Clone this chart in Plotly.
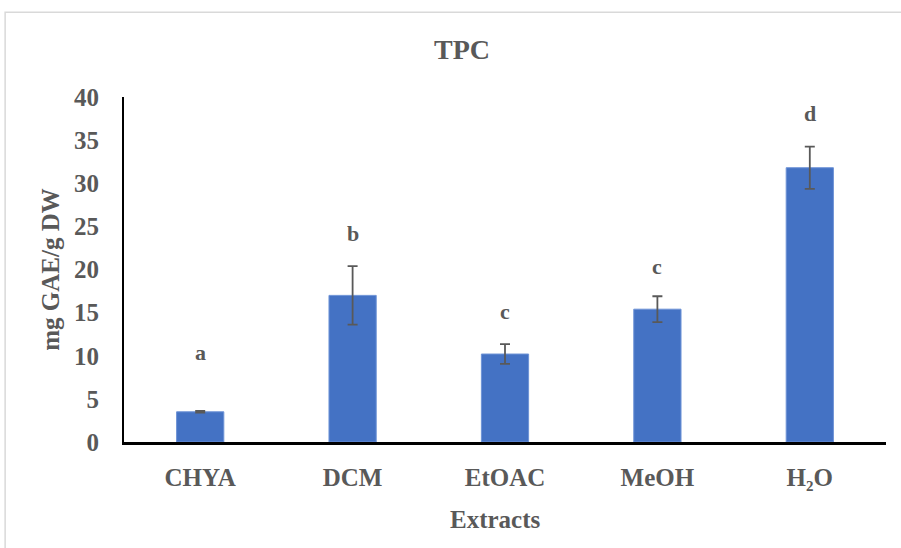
import plotly.graph_objects as go

categories = ["CHYA", "DCM", "EtOAC", "MeOH", "H₂O"]
values = [3.5, 17.0, 10.2, 15.4, 31.8]
errors = [0.1, 3.4, 1.15, 1.5, 2.45]
letters = ["a", "b", "c", "c", "d"]
letter_y = [10.4, 24.2, 15.1, 20.3, 38.1]

FONT = "Liberation Serif, Times New Roman, serif"
GRAY = "#595959"

fig = go.Figure()
fig.add_trace(go.Bar(
    x=categories, y=values,
    marker=dict(color="#4472C4", line=dict(color="#6E93D6", width=1)),
    error_y=dict(type="data", array=errors, visible=True, color=GRAY, thickness=1.8, width=5),
    width=0.31,
))

for c, l, ly in zip(categories, letters, letter_y):
    fig.add_annotation(x=c, y=ly, text=f"<b>{l}</b>", showarrow=False,
                       font=dict(family=FONT, size=22, color=GRAY))

# x-axis title (slightly left of plot centre, as in the reference)
fig.add_annotation(xref="paper", yref="paper", x=0.487, y=-0.226, xanchor="center", yanchor="middle",
                   text="<b>Extracts</b>", showarrow=False,
                   font=dict(family=FONT, size=25, color=GRAY))

fig.add_shape(type="rect", xref="paper", yref="paper",
              x0=-0.156, x1=1.2, y0=-0.5, y1=1.246,
              line=dict(color="#D9D9D9", width=1.5), fillcolor="rgba(0,0,0,0)", layer="below")

fig.update_layout(
    width=901, height=548,
    margin=dict(l=124, r=15, t=97, b=106),
    paper_bgcolor="white", plot_bgcolor="white",
    showlegend=False,
    title=dict(text="<b>TPC</b>", x=462/901, xanchor="center", y=1 - 49/548, yanchor="middle",
               xref="container", yref="container", font=dict(family=FONT, size=28, color=GRAY)),
    font=dict(family=FONT, color=GRAY),
    xaxis=dict(
        showline=True, linecolor="black", linewidth=2.5, showgrid=False,
        ticks="", tickfont=dict(family=FONT, size=25, color=GRAY),
        ticklabelstandoff=11,
        tickprefix="<b>", ticksuffix="</b>",
    ),
    yaxis=dict(
        range=[0, 40], dtick=5, showline=True, linecolor="black", linewidth=2,
        showgrid=False, zeroline=False, ticks="",
        tickfont=dict(family=FONT, size=25, color=GRAY),
        tickprefix="<b>", ticksuffix="</b>",
        ticklabelstandoff=18,
        title=dict(text="<b>mg GAE/g DW</b>", font=dict(family=FONT, size=25, color=GRAY), standoff=7),
    ),
)

fig.write_html("out.html")
